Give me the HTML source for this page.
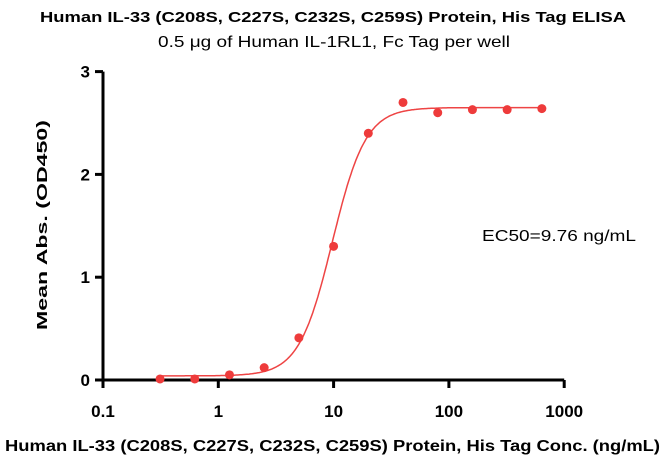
<!DOCTYPE html>
<html><head><meta charset="utf-8"><style>
body{margin:0;background:#fff;font-family:"Liberation Sans",sans-serif;}
svg text{font-family:"Liberation Sans",sans-serif;}
</style></head><body>
<svg width="667" height="467" viewBox="0 0 667 467">
<text x="40" y="22" font-size="15" font-weight="bold" textLength="586" lengthAdjust="spacingAndGlyphs">Human IL-33 (C208S, C227S, C232S, C259S) Protein, His Tag ELISA</text>
<text x="158" y="47" font-size="16" textLength="352" lengthAdjust="spacingAndGlyphs">0.5 μg of Human IL-1RL1, Fc Tag per well</text>
<text x="5" y="451" font-size="16" font-weight="bold" textLength="655" lengthAdjust="spacingAndGlyphs">Human IL-33 (C208S, C227S, C232S, C259S) Protein, His Tag Conc. (ng/mL)</text>
<text transform="translate(47,330) rotate(-90)" font-size="15" font-weight="bold" textLength="210" lengthAdjust="spacingAndGlyphs">Mean Abs. (OD450)</text>
<text x="482" y="241" font-size="16" textLength="154" lengthAdjust="spacingAndGlyphs">EC50=9.76 ng/mL</text>
<g id="axes"></g><g id="marks"></g>
</svg>
<script>
const concs=[0.3125,0.625,1.25,2.5,5,10,20,40,80,160,320,640];
const values=[0.01,0.01,0.05,0.12,0.41,1.3,2.4,2.7,2.6,2.63,2.63,2.64];
const xTicks=[0.1,1,10,100,1000];
const xTickLabels=["0.1","1","10","100","1000"];
const yTicks=[0,1,2,3];
const fitBottom=0.04, fitTop=2.65, ec50=9.76, hill=3;
const NS="http://www.w3.org/2000/svg";
const x=v=>103+115.3*(Math.log10(v)+1);
const y=v=>380-102.8*v;
function mk(t,a,p){const e=document.createElementNS(NS,t);for(const k in a)e.setAttribute(k,a[k]);p.appendChild(e);return e;}
const ax=document.getElementById('axes'), mg=document.getElementById('marks');
const xa=mk('line',{x1:x(0.1),x2:x(1000),y1:y(0),y2:y(0),stroke:'#000','stroke-width':3},ax);


const ya=mk('line',{x1:x(0.1),x2:x(0.1),y1:y(0)+1.5,y2:y(3),stroke:'#000','stroke-width':3},ax);


xTicks.forEach((t,i)=>{
 mk('line',{x1:x(t),x2:x(t),y1:y(0),y2:y(0)+8,stroke:'#000','stroke-width':3},ax);
 const tx=mk('text',{x:x(t),y:417,'text-anchor':'middle','font-size':17,'font-weight':'bold'},ax);
 tx.textContent=xTickLabels[i];
 
 
});
yTicks.forEach(t=>{
 mk('line',{x1:x(0.1)-8,x2:x(0.1),y1:y(t),y2:y(t),stroke:'#000','stroke-width':3},ax);
 const tx=mk('text',{x:x(0.1)-13,y:y(t)+6,'text-anchor':'end','font-size':17,'font-weight':'bold'},ax);
 tx.textContent=String(t);
 
 
});
let d='';
for(let i=0;i<=300;i++){const lv=Math.log10(0.3125)+i*(Math.log10(640)-Math.log10(0.3125))/300;const c=Math.pow(10,lv);
 const v=fitBottom+(fitTop-fitBottom)/(1+Math.pow(ec50/c,hill));d+=(i?'L':'M')+x(c).toFixed(1)+','+y(v).toFixed(1);}
const fit=mk('path',{d:d,fill:'none',stroke:'#ee4444','stroke-width':1.5},mg);


concs.forEach((c,i)=>{
 const p=mk('circle',{cx:x(c),cy:y(values[i]),r:4.5,fill:'#ee3b3b'},mg);
 
 
});
</script>
</body></html>
